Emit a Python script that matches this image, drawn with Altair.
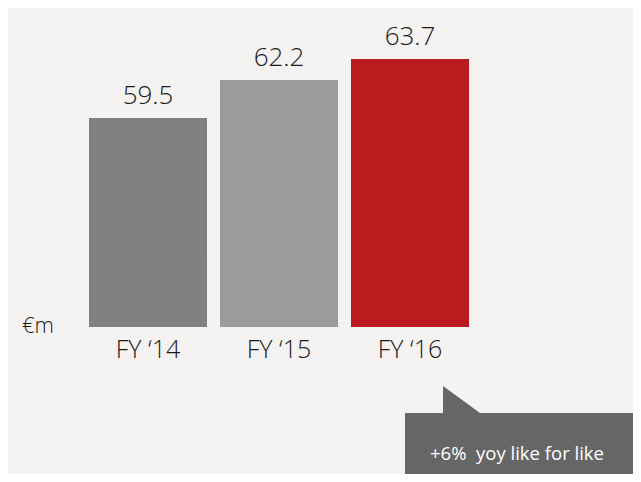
import altair as alt
import pandas as pd

categories = ["FY \u201814", "FY \u201815", "FY \u201816"]
values = [59.5, 62.2, 63.7]
labels = ["59.5", "62.2", "63.7"]
colors = ["#808080", "#9b9b9b", "#bb1b1f"]
BASE = 44.625

df = pd.DataFrame({"cat": categories, "val": values, "lab": labels, "col": colors,
                   "base": [BASE] * len(values)})

FONT = "Open Sans"

x = alt.X("cat:N", sort=categories, axis=None,
          scale=alt.Scale(range=[81, 461], paddingInner=0.099, paddingOuter=0))
y = alt.Y("val:Q", axis=None,
          scale=alt.Scale(domain=[BASE, 67.33], range=[319, 0], zero=False, nice=False))

bars = alt.Chart(df).mark_bar().encode(
    x=x, y=y, y2="base:Q",
    color=alt.Color("col:N", scale=None),
)

vals = alt.Chart(df).mark_text(font=FONT, fontSize=26, fontWeight=300, color="#1a1a1a",
                               baseline="alphabetic", dy=-14).encode(
    x=x, y=y, text="lab:N")

cats = alt.Chart(df).mark_text(font=FONT, fontSize=25, fontWeight=300, color="#1a1a1a",
                               baseline="alphabetic").encode(
    x=x, y=alt.value(350), text="cat:N")

unit = alt.Chart(pd.DataFrame({"t": ["\u20acm"]})).mark_text(
    font=FONT, fontSize=22, fontWeight=300, color="#1a1a1a", align="left",
    baseline="alphabetic").encode(x=alt.value(14), y=alt.value(325), text="t:N")

box = alt.Chart(pd.DataFrame({"a": [0]})).mark_rect(color="#666666").encode(
    x=alt.value(397), x2=alt.value(625), y=alt.value(405), y2=alt.value(466))

tri = alt.Chart(pd.DataFrame({"a": [0]})).mark_point(
    shape="M-1,-0.73L-1,0.73L1,0.73Z", filled=True, color="#666666", opacity=1,
    size=1369).encode(x=alt.value(453.5), y=alt.value(391.5))

note = alt.Chart(pd.DataFrame({"t": ["+6%\u00a0 yoy like for like"]})).mark_text(
    font=FONT, fontSize=18.5, color="#ffffff", align="left", baseline="alphabetic").encode(
    x=alt.value(422), y=alt.value(452), text="t:N")

chart = alt.layer(bars, vals, cats, unit, box, tri, note).properties(
    width=625, height=466, background="#f4f3f1", padding=0,
    autosize=alt.AutoSizeParams(type="none"),
).configure_view(stroke=None)

chart.save("out.html", embed_options={"renderer": "svg", "actions": False})
